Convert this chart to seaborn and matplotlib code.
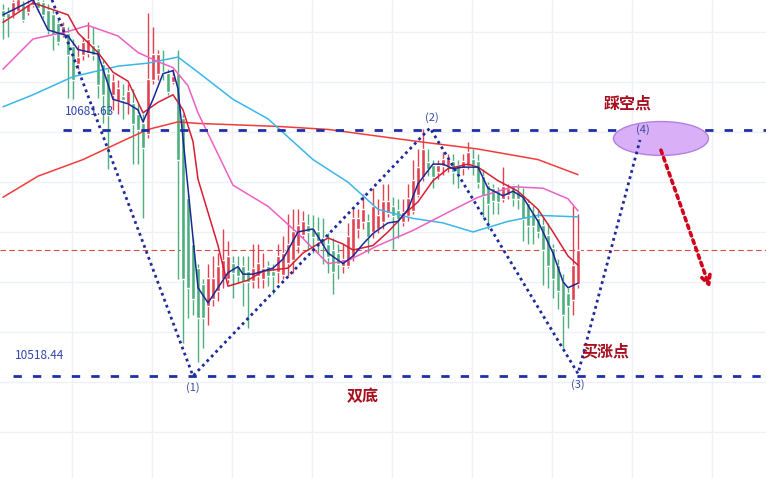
import numpy as np
import pandas as pd
import matplotlib
matplotlib.use("Agg")
import matplotlib.pyplot as plt
import seaborn as sns
from matplotlib.patches import Ellipse

# ---- candle data (index 0..115) ----
opens = [10761, 10759, 10758, 10761, 10765, 10760, 10765, 10767, 10766, 10761, 10758, 10752, 10745, 10746, 10737, 10726,
         10732, 10733, 10738, 10736, 10725, 10719, 10705, 10701, 10704, 10699, 10699, 10692, 10686, 10679, 10715, 10719,
         10720, 10719, 10714, 10719, 10689, 10636, 10606, 10590, 10579, 10565, 10570, 10575, 10583, 10583, 10593, 10591,
         10591, 10588, 10582, 10585, 10583, 10591, 10588, 10588, 10586, 10594, 10596, 10605, 10612, 10618, 10616, 10614,
         10610, 10606, 10602, 10600, 10592, 10592, 10598, 10616, 10621, 10621, 10614, 10616, 10621, 10627, 10631, 10628,
         10621, 10625, 10628, 10639, 10651, 10660, 10658, 10654, 10658, 10658, 10661, 10658, 10657, 10658, 10662, 10661,
         10651, 10645, 10643, 10641, 10636, 10639, 10645, 10641, 10637, 10633, 10626, 10623, 10618, 10612, 10603, 10592,
         10581, 10573, 10569, 10580]
closes = [10757, 10756, 10766, 10768, 10755, 10765, 10768, 10763, 10758, 10748, 10745, 10740, 10750, 10732, 10715, 10730,
          10740, 10742, 10732, 10712, 10705, 10692, 10714, 10709, 10702, 10707, 10686, 10682, 10670, 10715, 10732, 10732,
          10719, 10707, 10717, 10662, 10583, 10577, 10570, 10557, 10557, 10583, 10583, 10591, 10595, 10598, 10587, 10585,
          10581, 10581, 10590, 10593, 10590, 10585, 10585, 10598, 10600, 10606, 10614, 10618, 10621, 10614, 10611, 10608,
          10605, 10598, 10588, 10593, 10596, 10611, 10623, 10623, 10629, 10611, 10631, 10625, 10634, 10634, 10625, 10623,
          10627, 10636, 10648, 10657, 10669, 10656, 10651, 10658, 10662, 10662, 10654, 10653, 10661, 10667, 10659, 10647,
          10638, 10633, 10635, 10634, 10644, 10643, 10636, 10636, 10623, 10618, 10618, 10614, 10602, 10592, 10583, 10575,
          10559, 10565, 10592, 10602]
highs = [10765, 10763, 10768, 10770, 10767, 10768, 10770, 10769, 10768, 10765, 10761, 10755, 10753, 10750, 10742, 10738,
         10743, 10753, 10750, 10738, 10728, 10722, 10719, 10715, 10712, 10712, 10709, 10699, 10692, 10759, 10750, 10735,
         10735, 10722, 10722, 10735, 10692, 10639, 10610, 10593, 10583, 10593, 10598, 10600, 10616, 10608, 10598, 10598,
         10598, 10598, 10606, 10606, 10600, 10595, 10593, 10606, 10611, 10626, 10629, 10629, 10628, 10626, 10625, 10624,
         10623, 10613, 10610, 10606, 10606, 10620, 10629, 10629, 10639, 10626, 10643, 10636, 10646, 10646, 10637, 10636,
         10636, 10646, 10662, 10669, 10682, 10669, 10662, 10662, 10667, 10666, 10666, 10662, 10666, 10674, 10669, 10666,
         10656, 10647, 10646, 10644, 10657, 10646, 10646, 10646, 10643, 10636, 10631, 10629, 10624, 10620, 10606, 10596,
         10586, 10577, 10631, 10626]
lows = [10742, 10743, 10756, 10760, 10753, 10758, 10763, 10760, 10756, 10745, 10735, 10738, 10743, 10703, 10702, 10722,
        10728, 10730, 10728, 10703, 10686, 10656, 10695, 10692, 10689, 10692, 10659, 10659, 10623, 10676, 10712, 10715,
        10715, 10705, 10712, 10583, 10540, 10557, 10559, 10528, 10537, 10552, 10565, 10568, 10577, 10580, 10570, 10580,
        10565, 10550, 10577, 10577, 10577, 10578, 10573, 10580, 10583, 10585, 10587, 10600, 10610, 10603, 10600, 10600,
        10593, 10587, 10573, 10583, 10587, 10590, 10595, 10610, 10616, 10600, 10610, 10613, 10616, 10624, 10603, 10610,
        10618, 10621, 10626, 10637, 10648, 10651, 10643, 10649, 10652, 10654, 10646, 10643, 10652, 10656, 10652, 10643,
        10624, 10616, 10626, 10626, 10634, 10636, 10631, 10629, 10608, 10606, 10606, 10610, 10579, 10577, 10570, 10563,
        10537, 10550, 10559, 10577]

# ---- moving average lines (index, price) ----
ma5_idx = [0, 6, 9, 13, 15, 19, 22, 25, 27, 28, 30, 32, 34, 35, 37, 39, 41, 42, 45, 47, 48, 50, 54, 56, 59, 62, 63, 65,
           68, 70, 72, 74, 77, 79, 81, 83, 86, 88, 90, 92, 95, 97, 100, 102, 104, 107, 110, 112, 113, 115]
ma5_val = [10758, 10768, 10748, 10744, 10735, 10732, 10702, 10699, 10695, 10687, 10702, 10719, 10721, 10709, 10643, 10577,
           10567, 10572, 10587, 10591, 10586, 10586, 10590, 10596, 10614, 10616, 10611, 10600, 10593, 10598, 10606, 10613,
           10620, 10621, 10629, 10646, 10659, 10659, 10656, 10657, 10657, 10643, 10638, 10641, 10637, 10621, 10600, 10581,
           10577, 10580]
ma10_idx = [0, 6, 13, 15, 19, 22, 25, 28, 31, 34, 36, 38, 39, 43, 45, 49, 52, 57, 60, 65, 68, 70, 74, 77, 79, 80, 83, 86,
            89, 93, 95, 99, 103, 107, 110, 113, 115]
ma10_val = [10753, 10766, 10758, 10746, 10733, 10720, 10714, 10693, 10700, 10705, 10695, 10674, 10649, 10605, 10578, 10582,
            10588, 10590, 10600, 10610, 10606, 10602, 10605, 10614, 10621, 10625, 10634, 10648, 10656, 10659, 10657, 10648,
            10641, 10629, 10614, 10598, 10592]
ma20_idx = [0, 6, 13, 17, 23, 27, 31, 34, 37, 39, 46, 53, 59, 65, 69, 75, 82, 89, 95, 102, 108, 113, 115]
ma20_val = [10722, 10742, 10747, 10751, 10744, 10733, 10727, 10723, 10711, 10693, 10645, 10631, 10613, 10593, 10595, 10605,
            10615, 10627, 10637, 10644, 10643, 10636, 10628]
ma30_idx = [0, 6, 14, 23, 29, 35, 39, 46, 53, 59, 62, 69, 75, 82, 88, 94, 101, 107, 115]
ma30_val = [10697, 10705, 10717, 10724, 10726, 10730, 10720, 10702, 10689, 10671, 10662, 10647, 10629, 10623, 10620, 10614,
            10621, 10625, 10624]
ma60_idx = [0, 7, 16, 25, 29, 35, 39, 55, 65, 83, 95, 107, 115]
ma60_val = [10637, 10651, 10662, 10676, 10682, 10687, 10686, 10684, 10682, 10674, 10669, 10662, 10652]

# ---- pattern annotation ----
level_top = 10681.63
level_bottom = 10518.44
last_price = 10602
zig_idx = [9.8, 38.0, 85.4, 115.0, 127.4]
zig_val = [10768, 10518.44, 10683, 10520, 10675]
zig_labels = ["(1)", "(2)", "(3)", "(4)"]

sns.set_theme(style="white")
plt.rcParams['font.family'] = ['Noto Sans CJK SC', 'DejaVu Sans']

fig = plt.figure(figsize=(7.66, 4.78), dpi=100)
ax = fig.add_axes([0, 0, 1, 1])
ax.set_xlim(-0.6, 152.6)
ax.set_ylim(10450.77, 10767.87)

# grid
ax.set_yticks(10767.87 - 0.6634 * np.arange(32, 478, 50))
ax.set_xticks((np.arange(72, 766, 80) - 3) / 5)
ax.grid(True, color="#eef1f6", lw=1)
ax.tick_params(left=False, bottom=False, labelleft=False, labelbottom=False)
for s in ax.spines.values():
    s.set_visible(False)

# candles
idx = np.arange(len(closes))
o = np.array(opens); c = np.array(closes)
up = c >= o
cols = np.where(up, "#e0434f", "#4caf7d")
ax.vlines(idx, lows, highs, colors=cols, lw=1, zorder=2)
ax.bar(idx, np.abs(c - o) + 0.6, bottom=np.minimum(o, c) - 0.3, width=0.7, color=cols, zorder=3)

# moving averages
ma_sets = [(ma60_idx, ma60_val, "#f23b3b"), (ma30_idx, ma30_val, "#39b6ea"),
           (ma20_idx, ma20_val, "#ee5fc4"), (ma10_idx, ma10_val, "#d41f33"),
           (ma5_idx, ma5_val, "#1b2896")]
for xi, yi, col in ma_sets:
    df = pd.DataFrame({"i": xi, "v": yi})
    sns.lineplot(data=df, x="i", y="v", ax=ax, color=col, lw=1.1, zorder=4)
ax.set_xlabel(""); ax.set_ylabel("")

# levels
ax.axhline(last_price, color="#e04848", lw=0.8, ls=(0, (5, 3)), zorder=1)
ax.hlines(level_top, 12, 152.6, color="#1f2fa8", lw=2, ls=(0, (3, 4)), zorder=5)
ax.hlines(level_bottom, 2, 152.6, color="#1f2fa8", lw=2, ls=(0, (3, 4)), zorder=5)
ax.text(12.4, level_top + 8, "10681.63", color="#3346b0", fontsize=8.5, va="bottom")
ax.text(2.4, level_bottom + 9, "10518.44", color="#3346b0", fontsize=8.5, va="bottom")

# zigzag
ax.plot(zig_idx, zig_val, color="#1f2a9c", lw=2, ls=(0, (1, 1.3)), zorder=6)
ax.add_patch(Ellipse((131.6, 10676), 19, 22.5, facecolor="#d9b0f7", edgecolor="#b47fe0", lw=1, zorder=5))
lab_pos = [(38.0, 10511), (85.8, 10690), (115.0, 10513), (128.0, 10682)]
for (lx, ly), t in zip(lab_pos, zig_labels):
    ax.text(lx, ly, t, color="#3a4aa0", fontsize=8, ha="center", va="center", zorder=7)

ax.annotate("", xy=(141.6, 10575), xytext=(131.4, 10670),
            arrowprops=dict(arrowstyle="->", color="#d0021b", lw=2.6, ls=(0, (1, 1.2)),
                            mutation_scale=16), zorder=7)

txt = dict(color="#a50f1e", fontsize=11.5, fontweight="bold", ha="center", va="center", zorder=8)
ax.text(125.0, 10699, "踩空点", **txt)
ax.text(120.5, 10535, "买涨点", **txt)
ax.text(72.0, 10505, "双底", **txt)

fig.savefig("out.png", dpi=100)
